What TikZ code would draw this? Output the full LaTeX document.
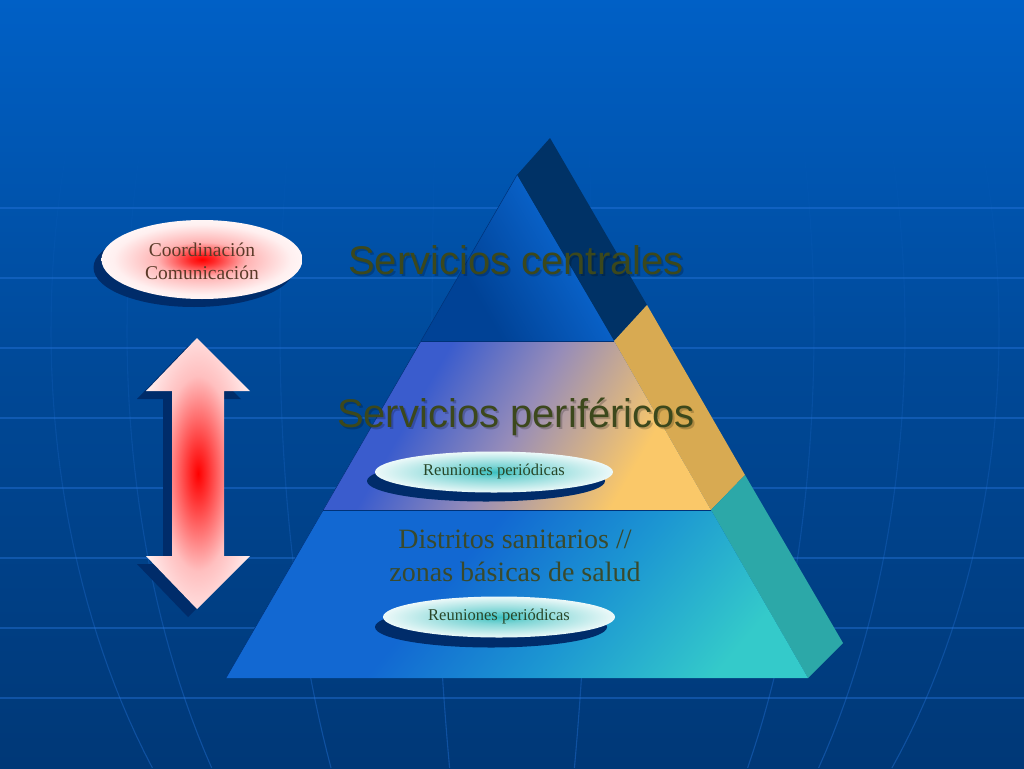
\documentclass[tikz,border=0pt]{standalone}
\usepackage{fontspec}
\setmainfont{Liberation Serif}
\newfontfamily\arialf{Liberation Sans}
\usetikzlibrary{shapes.geometric,fadings}
\definecolor{bgtop}{RGB}{0,102,206}
\definecolor{bgup}{RGB}{0,96,198}
\definecolor{bgmid}{RGB}{0,72,150}
\definecolor{bgbot}{RGB}{0,40,88}
\definecolor{gridc}{RGB}{40,120,225}
\definecolor{shadowc}{RGB}{0,44,106}
\definecolor{navyside}{RGB}{0,50,102}
\definecolor{goldside}{RGB}{216,170,82}
\definecolor{tealside}{RGB}{44,168,168}
\definecolor{tierA}{RGB}{10,100,204}
\definecolor{tierB}{RGB}{0,66,150}
\definecolor{midblue}{RGB}{58,92,205}
\definecolor{midgrey}{RGB}{150,140,185}
\definecolor{midgold}{RGB}{250,200,105}
\definecolor{lowblue}{RGB}{18,104,210}
\definecolor{lowmid}{RGB}{28,150,210}
\definecolor{lowteal}{RGB}{52,202,202}
\definecolor{olive}{RGB}{60,72,28}
\definecolor{olive2}{RGB}{58,74,44}
\definecolor{greentxt}{RGB}{40,70,40}
\definecolor{browntxt}{RGB}{90,58,40}
\definecolor{glowteal}{RGB}{60,192,192}
\definecolor{edgec}{RGB}{0,50,120}
\pgfdeclareverticalshading{bgshade}{100bp}{color(0bp)=(bgbot); color(50bp)=(bgmid); color(75bp)=(bgup); color(100bp)=(bgtop)}
\pgfdeclareverticalshading{midshade}{100bp}{color(0bp)=(midgold); color(30bp)=(midgold); color(50bp)=(midgrey); color(66bp)=(midblue); color(100bp)=(midblue)}
\pgfdeclareverticalshading{lowshade}{100bp}{color(0bp)=(lowteal); color(24bp)=(lowteal); color(42bp)=(lowmid); color(58bp)=(lowblue); color(100bp)=(lowblue)}
\pgfdeclareverticalshading{topshade}{100bp}{color(0bp)=(tierB); color(35bp)=(tierB); color(65bp)=(tierA); color(100bp)=(tierA)}
\pgfdeclareradialshading{redglow}{\pgfpoint{0bp}{0bp}}{color(0bp)=(red); color(3bp)=(red!85!white); color(11bp)=(red!30!white); color(22bp)=(red!6!white); color(30bp)=(white); color(50bp)=(white)}
\pgfdeclareradialshading{arrowglow}{\pgfpoint{0bp}{0bp}}{color(0bp)=(red); color(5bp)=(red!80!white); color(18bp)=(red!25!white); color(30bp)=(red!5!white); color(36bp)=(white); color(50bp)=(white)}
\pgfdeclareradialshading{tealglow}{\pgfpoint{0bp}{0bp}}{color(0bp)=(glowteal); color(8bp)=(glowteal!65!white); color(28bp)=(white); color(50bp)=(white)}
\tikzset{
  gridline/.style={draw=gridc, line width=1.1pt, opacity=0.4},
  bigsans/.style={font=\arialf\fontsize{40}{44}\selectfont, text=olive, inner sep=0pt},
  serifbig/.style={font=\fontsize{28}{33}\selectfont, text=olive2, align=center, inner sep=0pt},
  reunion/.style={font=\fontsize{16.5}{20}\selectfont, text=greentxt, inner sep=0pt},
  shadowfill/.style={fill=shadowc, draw=none},
  tieredge/.style={draw=edgec, line width=0.7pt}
}
\begin{document}
\begin{tikzpicture}[x=1pt,y=-1pt]
\useasboundingbox (0,0) rectangle (1024,768);
% background
\shade[shading=bgshade] (0,0) rectangle (1024,768);
% faint grid: parallels
\foreach \yy in {208,278,348,418,488,558,628,698}{
  \draw[gridline] (0,\yy) -- (1024,\yy);
}
% meridians
\foreach \aa in {-461,-385,-232,-80,80,302,393,487}{
  \draw[gridline, path fading=north, domain=120:768, samples=40, variable=\t] plot ({512+\aa*sqrt(1-((\t-330)/700)^2)},\t);
}
% pyramid side face bands
\fill[navyside] (517,175) -- (550,138) -- (647,305) -- (614,341) -- cycle;
\fill[goldside] (614,341) -- (647,305) -- (745,475) -- (711,510) -- cycle;
\fill[tealside] (711,510) -- (745,475) -- (843,643) -- (808,678) -- cycle;
% front tiers
\shade[shading=topshade, shading angle=-60] (517,175) -- (614,341) -- (421,341) -- cycle;
\shade[shading=midshade, shading angle=60] (421,341) -- (614,341) -- (711,510) -- (323,510) -- cycle;
\shade[shading=lowshade, shading angle=50] (323,510) -- (711,510) -- (808,678) -- (226,678) -- cycle;
\draw[tieredge] (421,341) -- (614,341);
\draw[tieredge] (323,510) -- (711,510);
\draw[draw=edgec, line width=0.5pt] (517,175) -- (226,678);
% tier texts
\node[bigsans, text=black, opacity=0.2] at (518,262) {Servicios centrales};
\node[bigsans] (central) at (516,260) {Servicios centrales};
\node[bigsans, text=black, opacity=0.2] at (518,419) {Servicios periféricos};
\node[bigsans] (perif) at (516,417) {Servicios periféricos};
\node[serifbig] (distritos) at (515,556) {Distritos sanitarios //\\ zonas básicas de salud};
% reuniones ellipses
\fill[shadowfill] (486,481) ellipse (119pt and 20.5pt);
\node[ellipse, shading=tealglow, minimum width=238pt, minimum height=41pt, inner sep=0pt] (reu1) at (494,472) {};
\node[reunion] (reu1t) at (494,472) {Reuniones periódicas};
\fill[shadowfill] (491,627) ellipse (116pt and 20.5pt);
\node[ellipse, shading=tealglow, minimum width=232pt, minimum height=41pt, inner sep=0pt] (reu2) at (499,617) {};
\node[reunion] (reu2t) at (499,617) {Reuniones periódicas};
% coordination ellipse
\fill[shadowfill] (194,267.5) ellipse (100.5pt and 39.5pt);
\node[ellipse, shading=redglow, minimum width=201pt, minimum height=79pt, inner sep=0pt] (coord) at (202,259.5) {};
\node[font=\fontsize{19.5}{23}\selectfont, text=browntxt, align=center, inner sep=0pt] (coordt) at (202,261) {Coordinación\\Comunicación};
% double arrow
\fill[shadowfill, shift={(-9pt,-8pt)}] (197,338) -- (250,391) -- (224,391) -- (224,556) -- (250,556) -- (197,609) -- (146,556) -- (172,556) -- (172,391) -- (146,391) -- cycle;
\shade[shading=arrowglow] (197,338) -- (250,391) -- (224,391) -- (224,556) -- (250,556) -- (197,609) -- (146,556) -- (172,556) -- (172,391) -- (146,391) -- cycle;
\end{tikzpicture}
\end{document}
